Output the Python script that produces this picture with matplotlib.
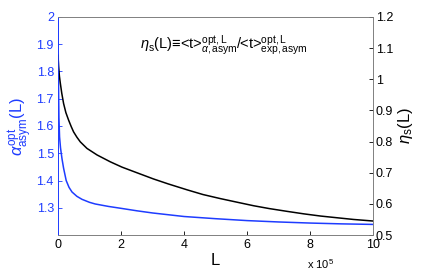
import matplotlib
matplotlib.use('Agg')
import matplotlib.pyplot as plt

plt.rcParams['font.family'] = ['Liberation Sans', 'DejaVu Sans']
plt.rcParams['mathtext.fontset'] = 'custom'
plt.rcParams['mathtext.rm'] = 'Liberation Sans'
plt.rcParams['mathtext.it'] = 'Liberation Sans:italic'
plt.rcParams['mathtext.bf'] = 'Liberation Sans:bold'

# L in units of 1e5
L_alpha = [0.0, 0.005, 0.01, 0.02, 0.03, 0.05, 0.08, 0.127, 0.178, 0.26, 0.35, 0.444, 0.6, 0.762, 1.0, 1.18, 1.6, 2.0, 2.5, 3.0, 4.0, 5.0, 6.0, 7.0, 8.0, 9.0, 10.0]
alpha = [2.0, 1.92, 1.84, 1.72, 1.63, 1.56, 1.52, 1.48, 1.445, 1.400, 1.375, 1.358, 1.342, 1.331, 1.320, 1.314, 1.305, 1.298, 1.289, 1.281, 1.268, 1.260, 1.253, 1.248, 1.244, 1.241, 1.239]

L_eta = [0.0, 0.02, 0.045, 0.073, 0.12, 0.178, 0.25, 0.336, 0.42, 0.495, 0.6, 0.708, 0.92, 1.24, 1.66, 2.03, 2.45, 3.03, 3.5, 4.1, 4.6, 5.15, 5.7, 6.21, 6.7, 7.27, 7.8, 8.33, 8.9, 9.38, 10.0]
eta = [1.077, 1.04, 1.01, 0.988, 0.955, 0.922, 0.893, 0.869, 0.848, 0.831, 0.814, 0.799, 0.778, 0.757, 0.735, 0.718, 0.702, 0.680, 0.664, 0.645, 0.630, 0.617, 0.605, 0.594, 0.585, 0.576, 0.568, 0.561, 0.555, 0.550, 0.545]

xticks = [0, 2, 4, 6, 8, 10]
left_ticks = [1.3, 1.4, 1.5, 1.6, 1.7, 1.8, 1.9, 2.0]
left_labels = ['1.3', '1.4', '1.5', '1.6', '1.7', '1.8', '1.9', '2']
right_ticks = [0.5, 0.6, 0.7, 0.8, 0.9, 1.0, 1.1, 1.2]
right_labels = ['0.5', '0.6', '0.7', '0.8', '0.9', '1', '1.1', '1.2']

blue = '#1e3cff'

fig = plt.figure(figsize=(4.36, 2.73), dpi=100)
ax = fig.add_axes([0.133, 0.139, 0.723, 0.799])
ax2 = ax.twinx()

ax.plot(L_alpha, alpha, color=blue, lw=1.1)
ax2.plot(L_eta, eta, color='black', lw=1.1)

ax.set_xlim(0, 10)
ax.set_ylim(1.2, 2.0)
ax2.set_ylim(0.5, 1.2)

ax.set_xticks(xticks)
ax.set_xticklabels([str(t) for t in xticks], fontsize=9)
ax.set_yticks(left_ticks)
ax.set_yticklabels(left_labels, fontsize=9, color=blue)
ax2.set_yticks(right_ticks)
ax2.set_yticklabels(right_labels, fontsize=9)

ax.tick_params(axis='both', direction='in', length=3, width=0.6, pad=3)
ax.tick_params(axis='y', colors=blue)
ax2.tick_params(axis='y', direction='in', length=3, width=0.6, pad=2)

for a in (ax, ax2):
    a.spines['top'].set_color('#808080')
    a.spines['bottom'].set_color('#808080')
    a.spines['right'].set_color('#808080')
    a.spines['left'].set_color(blue)
    for s in a.spines.values():
        s.set_linewidth(0.6)

ax.set_xlabel('L', fontsize=12, labelpad=1)
ax.set_ylabel(r'$\alpha^{\rm opt}_{\rm asym}$(L)', fontsize=12, color=blue, labelpad=1)
ax2.set_ylabel(r'$\eta_{\rm s}$(L)', fontsize=12, labelpad=2)

ax.text(0.877, -0.133, r'x 10$^5$', transform=ax.transAxes, fontsize=8, ha='right', va='center')

ax.text(0.26, 0.87, r'$\eta_{\rm s}$(L)≡<t>$^{\rm opt,L}_{\alpha,\rm asym}$/<t>$^{\rm opt,L}_{\rm exp,asym}$',
        transform=ax.transAxes, fontsize=10.5, ha='left', va='center')

fig.savefig('out.png', dpi=100)
